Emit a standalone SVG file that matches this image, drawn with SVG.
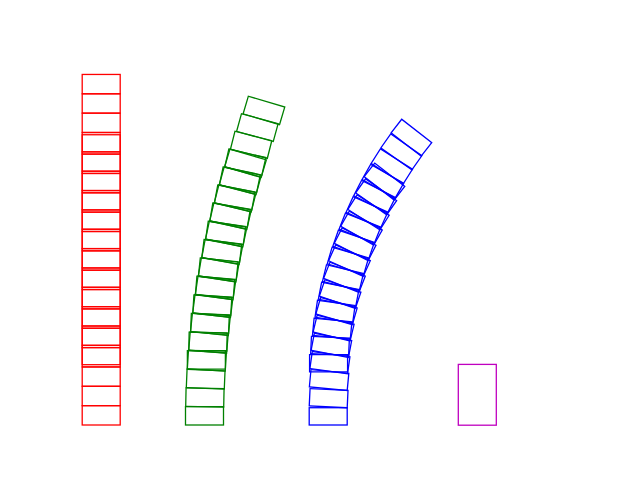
<svg xmlns="http://www.w3.org/2000/svg" width="640" height="480" viewBox="0 0 640 480">
<style>
rect{fill:none;stroke-width:1.3}
</style>
<defs>
<rect id="r" x="-19" y="-19.35" width="38" height="19.35"/>
<rect id="rg" x="-19" y="-18.36" width="38" height="18.36"/>
<rect id="rb" x="-19" y="-17.28" width="38" height="17.28"/>
</defs>
<rect width="640" height="480" fill="#fff" stroke="none"/>
<g id="red" stroke="#ff0000" transform="translate(101.2,425)">
<use href="#r"/>
<g transform="translate(0,-19.35)"><use href="#r"/>
<g transform="translate(0,-19.35)"><use href="#r"/>
<g transform="translate(0,-19.35)"><use href="#r"/><use href="#r" transform="translate(0,-2.25)"/>
<g transform="translate(0,-19.35)"><use href="#r"/><use href="#r" transform="translate(0,-2.25)"/>
<g transform="translate(0,-19.35)"><use href="#r"/><use href="#r" transform="translate(0,-2.25)"/>
<g transform="translate(0,-19.35)"><use href="#r"/><use href="#r" transform="translate(0,-2.25)"/>
<g transform="translate(0,-19.35)"><use href="#r"/><use href="#r" transform="translate(0,-2.25)"/>
<g transform="translate(0,-19.35)"><use href="#r"/><use href="#r" transform="translate(0,-2.25)"/>
<g transform="translate(0,-19.35)"><use href="#r"/><use href="#r" transform="translate(0,-2.25)"/>
<g transform="translate(0,-19.35)"><use href="#r"/><use href="#r" transform="translate(0,-2.25)"/>
<g transform="translate(0,-19.35)"><use href="#r"/><use href="#r" transform="translate(0,-2.25)"/>
<g transform="translate(0,-19.35)"><use href="#r"/><use href="#r" transform="translate(0,-2.25)"/>
<g transform="translate(0,-19.35)"><use href="#r"/><use href="#r" transform="translate(0,-2.25)"/>
<g transform="translate(0,-19.35)"><use href="#r"/><use href="#r" transform="translate(0,-2.25)"/>
<g transform="translate(0,-19.35)"><use href="#r" transform="translate(0,-2.25)"/>
<g transform="translate(0,-19.35)"><use href="#r" transform="translate(0,-2.25)"/>
<g transform="translate(0,-19.35)"><use href="#r" transform="translate(0,-2.25)"/>
</g></g></g></g></g></g></g></g></g></g></g></g></g></g></g></g></g>
</g>
<g id="green" stroke="#008000" transform="translate(204.5,425)">
<use href="#rg"/>
<g transform="rotate(0.6175) translate(0,-18.36) rotate(0.6175)"><use href="#rg" transform="rotate(-0.055,19,0)"/>
<g transform="rotate(0.6175) translate(0,-18.36) rotate(0.6175)"><use href="#rg" transform="rotate(-0.11,19,0)"/>
<g transform="rotate(0.6175) translate(0,-18.36) rotate(0.6175)"><use href="#rg" transform="rotate(-0.165,19,0)"/><use href="#rg" transform="translate(0,-2.11) rotate(-3.705,19,0)"/>
<g transform="rotate(0.6175) translate(0,-18.36) rotate(0.6175)"><use href="#rg" transform="rotate(-0.22,19,0)"/><use href="#rg" transform="translate(0,-2.11) rotate(-3.76,19,0)"/>
<g transform="rotate(0.6175) translate(0,-18.36) rotate(0.6175)"><use href="#rg" transform="rotate(-0.275,19,0)"/><use href="#rg" transform="translate(0,-2.11) rotate(-3.815,19,0)"/>
<g transform="rotate(0.6175) translate(0,-18.36) rotate(0.6175)"><use href="#rg" transform="rotate(-0.33,19,0)"/><use href="#rg" transform="translate(0,-2.11) rotate(-3.87,19,0)"/>
<g transform="rotate(0.6175) translate(0,-18.36) rotate(0.6175)"><use href="#rg" transform="rotate(-0.385,19,0)"/><use href="#rg" transform="translate(0,-2.11) rotate(-3.925,19,0)"/>
<g transform="rotate(0.6175) translate(0,-18.36) rotate(0.6175)"><use href="#rg" transform="rotate(-0.44,19,0)"/><use href="#rg" transform="translate(0,-2.11) rotate(-3.98,19,0)"/>
<g transform="rotate(0.6175) translate(0,-18.36) rotate(0.6175)"><use href="#rg" transform="rotate(-0.495,19,0)"/><use href="#rg" transform="translate(0,-2.11) rotate(-4.035,19,0)"/>
<g transform="rotate(0.6175) translate(0,-18.36) rotate(0.6175)"><use href="#rg" transform="rotate(-0.55,19,0)"/><use href="#rg" transform="translate(0,-2.11) rotate(-4.09,19,0)"/>
<g transform="rotate(0.6175) translate(0,-18.36) rotate(0.6175)"><use href="#rg" transform="rotate(-0.605,19,0)"/><use href="#rg" transform="translate(0,-2.11) rotate(-4.145,19,0)"/>
<g transform="rotate(0.6175) translate(0,-18.36) rotate(0.6175)"><use href="#rg" transform="rotate(-0.66,19,0)"/><use href="#rg" transform="translate(0,-2.11) rotate(-4.2,19,0)"/>
<g transform="rotate(0.6175) translate(0,-18.36) rotate(0.6175)"><use href="#rg" transform="rotate(-0.715,19,0)"/><use href="#rg" transform="translate(0,-2.11) rotate(-4.255,19,0)"/>
<g transform="rotate(0.6175) translate(0,-18.36) rotate(0.6175)"><use href="#rg" transform="rotate(-0.77,19,0)"/><use href="#rg" transform="translate(0,-2.11) rotate(-4.31,19,0)"/>
<g transform="rotate(0.6175) translate(0,-18.36) rotate(0.6175)"><use href="#rg" transform="translate(0,-2.11) rotate(-4.365,19,0)"/>
<g transform="rotate(0.6175) translate(0,-18.36) rotate(0.6175)"><use href="#rg" transform="translate(0,-2.11) rotate(-4.42,19,0)"/>
<g transform="rotate(0.6175) translate(0,-18.36) rotate(0.6175)"><use href="#rg" transform="translate(0,-2.11) rotate(-4.475,19,0)"/>
</g></g></g></g></g></g></g></g></g></g></g></g></g></g></g></g></g>
</g>
<g id="blue" stroke="#0000ff" transform="translate(328.2,425)">
<use href="#rb"/>
<g transform="translate(0,-17.28)"><use href="#rb" transform="rotate(2.7,19,0)"/>
<g transform="translate(0,-17.28)"><use href="#rb" transform="rotate(5.4,19,0)"/>
<g transform="rotate(1.05) translate(0,-17.28) rotate(1.05)"><use href="#rb" transform="rotate(6.0,19,0)"/><use href="#rb" transform="translate(0,-2) rotate(-2.1,19,0)"/>
<g transform="rotate(1.175) translate(0,-17.28) rotate(1.175)"><use href="#rb" transform="rotate(6.35,19,0)"/><use href="#rb" transform="translate(0,-2) rotate(-1.75,19,0)"/>
<g transform="rotate(1.175) translate(0,-17.28) rotate(1.175)"><use href="#rb" transform="rotate(6.7,19,0)"/><use href="#rb" transform="translate(0,-2) rotate(-1.4,19,0)"/>
<g transform="rotate(1.175) translate(0,-17.28) rotate(1.175)"><use href="#rb" transform="rotate(7.05,19,0)"/><use href="#rb" transform="translate(0,-2) rotate(-1.05,19,0)"/>
<g transform="rotate(1.175) translate(0,-17.28) rotate(1.175)"><use href="#rb" transform="rotate(7.4,19,0)"/><use href="#rb" transform="translate(0,-2) rotate(-0.7,19,0)"/>
<g transform="rotate(1.175) translate(0,-17.28) rotate(1.175)"><use href="#rb" transform="rotate(7.75,19,0)"/><use href="#rb" transform="translate(0,-2) rotate(-0.35,19,0)"/>
<g transform="rotate(1.175) translate(0,-17.28) rotate(1.175)"><use href="#rb" transform="rotate(8.1,19,0)"/><use href="#rb" transform="translate(0,-2)"/>
<g transform="rotate(1.175) translate(0,-17.28) rotate(1.175)"><use href="#rb" transform="rotate(8.45,19,0)"/><use href="#rb" transform="translate(0,-2) rotate(0.35,19,0)"/>
<g transform="rotate(1.175) translate(0,-17.28) rotate(1.175)"><use href="#rb" transform="rotate(8.8,19,0)"/><use href="#rb" transform="translate(0,-2) rotate(0.7,19,0)"/>
<g transform="rotate(1.175) translate(0,-17.28) rotate(1.175)"><use href="#rb" transform="rotate(9.15,19,0)"/><use href="#rb" transform="translate(0,-2) rotate(1.05,19,0)"/>
<g transform="rotate(1.175) translate(0,-17.28) rotate(1.175)"><use href="#rb" transform="rotate(9.5,19,0)"/><use href="#rb" transform="translate(0,-2) rotate(1.4,19,0)"/>
<g transform="rotate(1.175) translate(0,-17.28) rotate(1.175)"><use href="#rb" transform="rotate(9.85,19,0)"/><use href="#rb" transform="translate(0,-2) rotate(1.75,19,0)"/>
<g transform="rotate(1.175) translate(0,-17.28) rotate(1.175)"><use href="#rb" transform="translate(0,-2) rotate(2.1,19,0)"/>
<g transform="rotate(1.175) translate(0,-17.28) rotate(1.175)"><use href="#rb" transform="translate(0,-2) rotate(2.45,19,0)"/>
<g transform="rotate(1.175) translate(0,-17.28) rotate(1.175)"><use href="#rb" transform="translate(0,-2) rotate(2.8,19,0)"/>
</g></g></g></g></g></g></g></g></g></g></g></g></g></g></g></g></g>
</g>
<g id="magenta">
<rect x="458.3" y="364.4" width="38" height="60.8" stroke="#bf00bf"/>
</g>
</svg>
